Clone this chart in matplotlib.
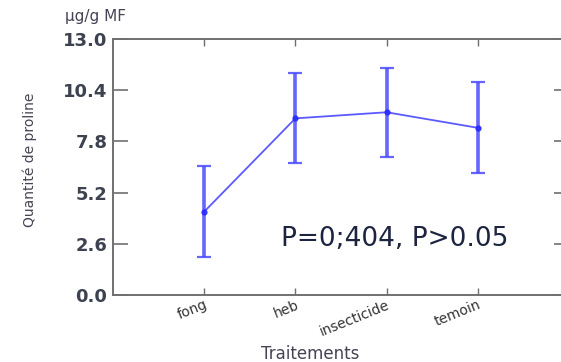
import matplotlib
matplotlib.use('Agg')
import matplotlib.pyplot as plt
import matplotlib.transforms as mtransforms

# data
traitements = ['fong', 'heb', 'insecticide', 'temoin']
moyennes = [4.23, 8.97, 9.28, 8.49]
erreurs = [2.32, 2.28, 2.27, 2.31]
yticks = [0.0, 2.6, 5.2, 7.8, 10.4, 13.0]

plt.rcParams['font.family'] = ['DejaVu Sans']

fig = plt.figure(figsize=(5.61, 3.62), dpi=100)
ax = fig.add_axes([113 / 561, 1 - 295 / 362, 456 / 561, 256 / 362])

pos = list(range(1, len(traitements) + 1))
ax.plot(pos, moyennes, color='#5a5aff', lw=1.3, zorder=2)
ax.errorbar(pos, moyennes, yerr=erreurs, fmt='o', ms=3.5, color='#2828ff',
            ecolor='#4a4aff', elinewidth=2.6, capsize=5, capthick=1.6, alpha=0.85, zorder=3)

ax.set_xlim(0, 5)
ax.set_ylim(0, 13)
ax.set_yticks(yticks)
ax.set_yticklabels(['%.1f' % v for v in yticks], fontsize=13, fontweight='bold', color='#3c4250')
ax.set_xticks(pos)
ax.set_xticklabels(traitements, rotation=22, ha='right', va='top', rotation_mode='anchor',
                   fontsize=10, color='#333333')
offset = mtransforms.ScaledTranslation(16 / 100, -8 / 100, fig.dpi_scale_trans)
for lab in ax.get_xticklabels():
    lab.set_transform(lab.get_transform() + offset)

for s in ax.spines.values():
    s.set_color('#707070')
    s.set_linewidth(1.4)
ax.tick_params(axis='y', direction='in', length=11, width=1.2, color='#707070', pad=4,
               right=True)
ax.tick_params(axis='x', direction='in', length=5, width=1.0, color='#707070', pad=2,
               top=True)

fig.text(65 / 561, 1 - 17 / 362, u'µg/g MF', fontsize=11, color='#444455',
         ha='left', va='center')
fig.text(30 / 561, 1 - 160 / 362, u'Quantité de proline', rotation=90, fontsize=10,
         color='#444455', ha='center', va='center')
fig.text(310 / 561, 1 - 354 / 362, 'Traitements', fontsize=12, color='#444455',
         ha='center', va='center')
fig.text(281 / 561, 1 - 239 / 362, 'P=0;404, P>0.05', fontsize=19, color='#1c2440',
         ha='left', va='center')

fig.savefig('out.png', dpi=100)
